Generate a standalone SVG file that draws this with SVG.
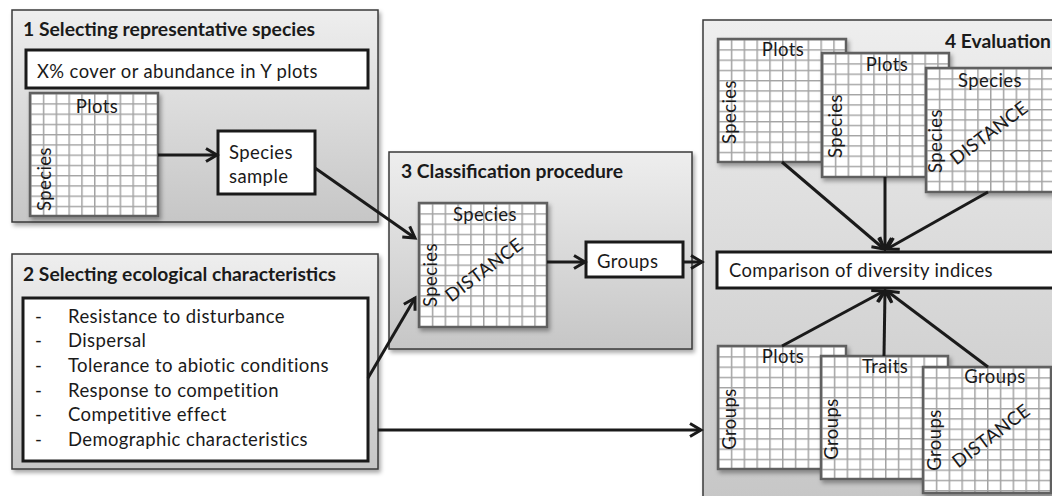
<svg xmlns="http://www.w3.org/2000/svg" width="1052" height="496" viewBox="0 0 1052 496">
<defs>
<linearGradient id="pg" x1="0" y1="0" x2="0" y2="1">
<stop offset="0" stop-color="#eeeeee"/>
<stop offset="1" stop-color="#c6c6c6"/>
</linearGradient>
<pattern id="grid" patternUnits="userSpaceOnUse" width="12.8" height="10.25">
<rect width="12.8" height="10.25" fill="#ffffff"/>
<path d="M0 0V10.25M0 0H12.8" stroke="#a3a3a3" stroke-width="3" fill="none"/>
</pattern>
<filter id="sh" x="-5%" y="-5%" width="115%" height="115%">
<feDropShadow dx="2" dy="3" stdDeviation="2" flood-color="#000" flood-opacity="0.35"/>
</filter>
<marker id="ah" markerUnits="userSpaceOnUse" markerWidth="18" markerHeight="18" refX="14" refY="9" orient="auto">
<path d="M3 2.5L14 9L3 15.5" fill="none" stroke="#1a1a1a" stroke-width="3" stroke-linejoin="miter"/>
</marker>
<style>
.panel{fill:url(#pg);stroke:#3a3a3a;stroke-width:1.5;filter:url(#sh)}
.box{fill:#fff;stroke:#1a1a1a;stroke-width:3}
.g{fill:url(#grid);stroke:#606060;stroke-width:2.5;filter:url(#sh)}
.t{font-family:Lato,"Open Sans","Liberation Sans",sans-serif;font-size:18.5px;letter-spacing:0.4px;fill:#1a1a1a}
.b{font-family:Lato,"Open Sans","Liberation Sans",sans-serif;font-size:18px;font-weight:700;fill:#1a1a1a}
.m{text-anchor:middle}
.c{fill:none;stroke:#1a1a1a;stroke-width:3;marker-end:url(#ah)}
</style>
</defs>

<g id="panel1">
<rect class="panel" x="12" y="10" width="366" height="212"/>
<text class="b" x="23" y="36" textLength="292" lengthAdjust="spacingAndGlyphs">1 Selecting representative species</text>
<rect class="box" x="26" y="50" width="342" height="38"/>
<text class="t" x="37" y="78" textLength="281" lengthAdjust="spacingAndGlyphs">X% cover or abundance in Y plots</text>
<g transform="translate(30,93)">
<rect class="g" width="128" height="123"/>
<text class="t m" x="67" y="20">Plots</text>
<text class="t m" transform="translate(21,86) rotate(-90)">Species</text>
</g>
<rect class="box" x="218" y="131" width="97" height="63"/>
<text class="t" x="229" y="159">Species</text>
<text class="t" x="229" y="183">sample</text>
</g>

<g id="panel2">
<rect class="panel" x="12" y="254" width="366" height="215"/>
<text class="b" x="23" y="281" textLength="313" lengthAdjust="spacingAndGlyphs">2 Selecting ecological characteristics</text>
<rect class="box" x="23" y="298" width="345" height="163"/>
<g class="t">
<text x="35" y="323">-</text><text x="68" y="323" textLength="217" lengthAdjust="spacingAndGlyphs">Resistance to disturbance</text>
<text x="35" y="347">-</text><text x="68" y="347">Dispersal</text>
<text x="35" y="372">-</text><text x="68" y="372" textLength="261" lengthAdjust="spacingAndGlyphs">Tolerance to abiotic conditions</text>
<text x="35" y="397">-</text><text x="68" y="397" textLength="211" lengthAdjust="spacingAndGlyphs">Response to competition</text>
<text x="35" y="421">-</text><text x="68" y="421">Competitive effect</text>
<text x="35" y="446">-</text><text x="68" y="446" textLength="240" lengthAdjust="spacingAndGlyphs">Demographic characteristics</text>
</g>
</g>

<g id="panel3">
<rect class="panel" x="389" y="152" width="303" height="197"/>
<text class="b" x="401" y="178" textLength="222" lengthAdjust="spacingAndGlyphs">3 Classification procedure</text>
<g transform="translate(419,203)">
<rect class="g" width="128" height="124"/>
<text class="t m" x="66" y="18">Species</text>
<text class="t m" transform="translate(18,72) rotate(-90)">Species</text>
<text class="t m" transform="translate(69,72) rotate(-37)">DISTANCE</text>
</g>
<rect class="box" x="586" y="242" width="97" height="35"/>
<text class="t" x="597" y="268">Groups</text>
</g>

<g id="panel4">
<rect class="panel" x="703" y="20" width="360" height="490"/>
<text class="b" x="945" y="48" textLength="106" lengthAdjust="spacingAndGlyphs">4 Evaluation</text>
<g id="gridA" transform="translate(718,39)">
<rect class="g" width="128" height="123"/>
<text class="t m" x="65" y="17">Plots</text>
<text class="t m" transform="translate(18,73) rotate(-90)">Species</text>
</g>
<g id="gridB" transform="translate(822,53)">
<rect class="g" width="127" height="124"/>
<text class="t m" x="65" y="18">Plots</text>
<text class="t m" transform="translate(20,73) rotate(-90)">Species</text>
</g>
<g id="gridC" transform="translate(926,68)">
<rect class="g" width="128" height="124"/>
<text class="t m" x="64" y="19">Species</text>
<text class="t m" transform="translate(16,73) rotate(-90)">Species</text>
<text class="t m" transform="translate(67,70) rotate(-37)">DISTANCE</text>
</g>
<rect class="box" x="717" y="252" width="345" height="36"/>
<text class="t" x="729" y="277" textLength="264" lengthAdjust="spacingAndGlyphs">Comparison of diversity indices</text>
<g id="gridD" transform="translate(718,346)">
<rect class="g" width="128" height="123"/>
<text class="t m" x="65" y="17">Plots</text>
<text class="t m" transform="translate(18,73) rotate(-90)">Groups</text>
</g>
<g id="gridE" transform="translate(821,356)">
<rect class="g" width="127" height="123"/>
<text class="t m" x="64" y="17">Traits</text>
<text class="t m" transform="translate(17,73) rotate(-90)">Groups</text>
</g>
<g id="gridF" transform="translate(923,367)">
<rect class="g" width="128" height="126"/>
<text class="t m" x="72" y="16">Groups</text>
<text class="t m" transform="translate(18,73) rotate(-90)">Groups</text>
<text class="t m" transform="translate(72,74) rotate(-37)">DISTANCE</text>
</g>
</g>

<g id="connectors">
<path class="c" d="M158 155H217"/>
<path class="c" d="M315 168L415 238"/>
<path class="c" d="M368 378L415 298"/>
<path class="c" d="M378 430H701"/>
<path class="c" d="M547 262H585"/>
<path class="c" d="M683 262H702"/>
<path class="c" d="M782 162L884 249"/>
<path class="c" d="M885 177V249"/>
<path class="c" d="M988 192L887 249"/>
<path class="c" d="M782 346L884 291"/>
<path class="c" d="M884 356L885 291"/>
<path class="c" d="M988 367L887 291"/>
</g>
</svg>
